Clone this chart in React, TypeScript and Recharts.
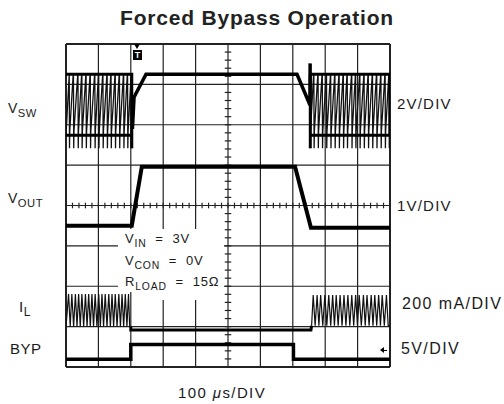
import React from 'react';
import { LineChart, Line, XAxis, YAxis, ReferenceLine } from 'recharts';

// scope screen: 10 x 8 divisions, values below are in divisions
const gridX = [0, 1, 2, 3, 4, 5, 6, 7, 8, 9, 10];
const gridY = [0, 1, 2, 3, 4, 5, 6, 7, 8];

// V_SW switching edges (left / right of the bypass window)
const vswHigh = 7.25;
const vswLow = 5.74;
const vswSpike = 5.42;
const vswLeftEdges = [0.10, 0.23, 0.37, 0.49, 0.62, 0.75, 0.89, 1.01, 1.14, 1.27, 1.39, 1.52, 1.65, 1.78, 1.90, 2.02];
const vswRightEdges = [7.53, 7.65, 7.78, 7.91, 8.04, 8.17, 8.30, 8.43, 8.56, 8.68, 8.82, 8.94, 9.07, 9.20, 9.33, 9.46, 9.59, 9.72, 9.85, 9.97];
const vswBypass = [[2.05, 5.9], [2.10, 6.68], [2.47, 7.25], [7.13, 7.25], [7.53, 6.49], [7.535, 7.52]];

// V_OUT
const voutTrace = [[0, 3.5], [2.03, 3.5], [2.34, 4.96], [7.07, 4.96], [7.56, 3.45], [10, 3.45]];

// I_L ripple peaks
const ilLeftPeak = 1.81;
const ilLeftValley = 1.0;
const ilRightPeak = 1.78;
const ilRightValley = 1.02;
const ilLeftPeaks = [0.08, 0.18, 0.29, 0.39, 0.49, 0.60, 0.70, 0.80, 0.90, 1.01, 1.11, 1.21, 1.32, 1.42, 1.52, 1.63, 1.73, 1.83, 1.93];
const ilRightPeaks = [7.63, 7.75, 7.86, 7.99, 8.11, 8.23, 8.34, 8.46, 8.58, 8.70, 8.82, 8.94, 9.05, 9.18, 9.29, 9.42, 9.53, 9.65, 9.76, 9.89];
const ilFlat = [[2.0, 1.0], [2.0, 0.915], [7.56, 0.915], [7.58, 1.02]];

// BYP
const bypTrace = [[0, 0.19], [2.0, 0.19], [2.0, 0.56], [7.02, 0.56], [7.02, 0.19], [10, 0.19]];

const pts = (arr: number[][]) => arr.map(([x, y]) => ({ x, y }));

const switching = (edges: number[], end: number) => {
  const out: number[][] = [];
  edges.forEach((e, i) => {
    const next = i + 1 < edges.length ? edges[i + 1] : end;
    out.push([e, vswHigh], [e + 0.008, vswSpike], [e + 0.016, vswLow + 0.1]);
    if (next > e + 0.03) out.push([next - 0.008, vswHigh]);
  });
  return out;
};

const ripple = (peaks: number[], start: number, end: number, peak: number, valley: number) => {
  const out: number[][] = [[start, valley]];
  peaks.forEach((p, i) => {
    const next = i + 1 < peaks.length ? peaks[i + 1] : end;
    out.push([p, peak], [(p + next) / 2, valley]);
  });
  out.push([end, valley]);
  return out;
};

const vswLeft = [[0, vswLow], ...switching(vswLeftEdges, 2.05)];
const vswRight = switching(vswRightEdges, 10);
const vswRails = [[0, vswHigh], [2.03, vswHigh], [2.03, vswSpike], [2.03, vswLow], [0, vswLow]];
const vswRailsR = [[7.54, vswHigh], [10, vswHigh], [10, vswLow], [7.54, vswLow], [7.54, vswSpike], [7.54, vswHigh]];
const ilLeft = ripple(ilLeftPeaks, 0, 2.0, ilLeftPeak, ilLeftValley);
const ilRight = ripple(ilRightPeaks, 7.58, 10, ilRightPeak, ilRightValley);

const minorX: number[] = [];
for (let i = 1; i < 50; i++) minorX.push(i * 0.2);
const minorY: number[] = [];
for (let i = 1; i < 40; i++) minorY.push(i * 0.2);

const FONT = '"Liberation Sans", Arial, sans-serif';

const Txt: React.FC<{ x: number; cap: number; fs: number; ls?: number; children: React.ReactNode }> = ({ x, cap, fs, ls = 0.5, children }) => (
  <div
    style={{
      position: 'absolute', left: x, top: cap - 0.13 * fs, fontSize: fs, lineHeight: `${fs}px`,
      fontFamily: FONT, whiteSpace: 'pre', color: '#1a1a1a', letterSpacing: ls,
    }}
  >
    {children}
  </div>
);

const Sub: React.FC<{ children: React.ReactNode }> = ({ children }) => (
  <span style={{ fontSize: '0.8em', position: 'relative', top: '0.35em' }}>{children}</span>
);

export default function App() {
  return (
    <div style={{ position: 'absolute', left: 0, top: 0, width: 504, height: 404, background: '#fff' }}>
      <div style={{ position: 'absolute', left: 5, top: 7, width: 504, textAlign: 'center', fontFamily: FONT, fontWeight: 'bold', fontSize: 21, lineHeight: '21px', color: '#222', letterSpacing: 0.8 }}>
        Forced Bypass Operation
      </div>
      <LineChart width={504} height={404} margin={{ top: 44, right: 114, bottom: 37, left: 66 }}>
        <XAxis type="number" dataKey="x" domain={[0, 10]} ticks={gridX} hide allowDataOverflow />
        <YAxis type="number" dataKey="y" domain={[0, 8]} ticks={gridY} hide allowDataOverflow />
        {gridX.map((v) => (
          <ReferenceLine key={`gx${v}`} x={v} stroke="#222" strokeWidth={v === 0 || v === 10 ? 2 : 1.2} />
        ))}
        {gridY.map((v) => (
          <ReferenceLine key={`gy${v}`} y={v} stroke="#222" strokeWidth={v === 0 || v === 8 ? 2 : 1.2} />
        ))}
        {minorX.map((v) => (
          <ReferenceLine key={`mx${v}`} segment={[{ x: v, y: 3.93 }, { x: v, y: 4.07 }]} stroke="#222" strokeWidth={1.2} />
        ))}
        {minorY.map((v) => (
          <ReferenceLine key={`my${v}`} segment={[{ x: 4.9, y: v }, { x: 5.1, y: v }]} stroke="#222" strokeWidth={1.2} />
        ))}
        <Line data={pts(vswLeft)} dataKey="y" stroke="#111" strokeWidth={1.3} dot={false} activeDot={false} isAnimationActive={false} />
        <Line data={pts(vswRight)} dataKey="y" stroke="#111" strokeWidth={1.3} dot={false} activeDot={false} isAnimationActive={false} />
        <Line data={pts(vswRails)} dataKey="y" stroke="#000" strokeWidth={3} dot={false} activeDot={false} isAnimationActive={false} />
        <Line data={pts(vswRailsR)} dataKey="y" stroke="#000" strokeWidth={3} dot={false} activeDot={false} isAnimationActive={false} />
        <Line data={pts(vswBypass)} dataKey="y" stroke="#000" strokeWidth={3.5} dot={false} activeDot={false} isAnimationActive={false} />
        <Line data={pts(voutTrace)} dataKey="y" stroke="#000" strokeWidth={4} dot={false} activeDot={false} isAnimationActive={false} />
        <Line data={pts(ilLeft)} dataKey="y" stroke="#111" strokeWidth={1.2} dot={false} activeDot={false} isAnimationActive={false} />
        <Line data={pts(ilRight)} dataKey="y" stroke="#111" strokeWidth={1.2} dot={false} activeDot={false} isAnimationActive={false} />
        <Line data={pts(ilFlat)} dataKey="y" stroke="#000" strokeWidth={3} dot={false} activeDot={false} isAnimationActive={false} />
        <Line data={pts(bypTrace)} dataKey="y" stroke="#000" strokeWidth={3.5} dot={false} activeDot={false} isAnimationActive={false} />
      </LineChart>

      {/* white patch behind the test conditions */}
      <div style={{ position: 'absolute', left: 118, top: 229, width: 106, height: 63, background: '#fff' }} />
      <div style={{ position: 'absolute', left: 133, top: 292, width: 91, height: 8, background: '#fff' }} />

      {/* trigger marker */}
      <div style={{ position: 'absolute', left: 134, top: 44, width: 0, height: 0, borderLeft: '3px solid transparent', borderRight: '3px solid transparent', borderTop: '5px solid #000' }} />
      <div style={{ position: 'absolute', left: 133, top: 50, width: 9, height: 10, background: '#000', color: '#fff', fontFamily: FONT, fontWeight: 'bold', fontSize: 9, lineHeight: '10px', textAlign: 'center' }}>T</div>

      {/* ground arrow for BYP */}
      <div style={{ position: 'absolute', left: 380, top: 347, width: 0, height: 0, borderTop: '3px solid transparent', borderBottom: '3px solid transparent', borderRight: '4px solid #000' }} />
      <div style={{ position: 'absolute', left: 384, top: 349.5, width: 3, height: 1.5, background: '#000' }} />

      <Txt x={8} cap={103} fs={14}>V<Sub>SW</Sub></Txt>
      <Txt x={8} cap={193} fs={14}>V<Sub>OUT</Sub></Txt>
      <Txt x={19} cap={301} fs={15}>I<Sub>L</Sub></Txt>
      <Txt x={10} cap={343} fs={15}>BYP</Txt>

      <Txt x={397} cap={98} fs={15} ls={1.2}>2V/DIV</Txt>
      <Txt x={397} cap={200} fs={15} ls={1.2}>1V/DIV</Txt>
      <Txt x={402} cap={298} fs={16} ls={1.4}>200 mA/DIV</Txt>
      <Txt x={401} cap={343} fs={16} ls={1.4}>5V/DIV</Txt>

      <Txt x={178} cap={387} fs={15} ls={1.4}>100 <span style={{ fontStyle: 'italic' }}>μ</span>s/DIV</Txt>

      <Txt x={125} cap={234} fs={13} ls={0.8}>V<Sub>IN</Sub>  =  3V</Txt>
      <Txt x={125} cap={256} fs={13} ls={0.8}>V<Sub>CON</Sub>  =  0V</Txt>
      <Txt x={125} cap={277} fs={13} ls={0.8}>R<Sub>LOAD</Sub>  =  15Ω</Txt>
    </div>
  );
}
